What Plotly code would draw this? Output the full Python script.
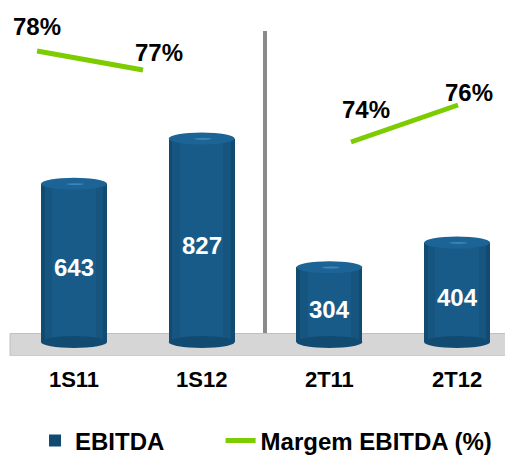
import plotly.graph_objects as go

# ---- data ----
categories = ["1S11", "1S12", "2T11", "2T12"]
ebitda = [643, 827, 304, 404]
margem = [78, 77, 74, 76]
margem_labels = ["78%", "77%", "74%", "76%"]

# ---- styling ----
FONT = "Liberation Sans, Arial, sans-serif"
BAR_W = 0.517
GREEN = "#7ccc00"
PX = 4.064          # data units per pixel on the bar axis
CAP = 6 * PX        # half-height of cylinder ellipses
label_shift = [(0, 25), (16, 18), (15, 32), (11, 12)]
LEG_FONT = dict(family=FONT, size=24, color="black", weight="bold")

fig = go.Figure()

# cylinder body layers (outer dark, inner lighter)
layers = [(BAR_W, "#124b72", True), (0.46, "#16557f", False), (0.34, "#195b88", False)]
for w, col, show in layers:
    fig.add_trace(go.Bar(
        x=categories, y=ebitda, width=w, marker=dict(color=col, line=dict(width=0)),
        name="EBITDA", showlegend=show, legendgroup="e", legend="legend",
        xaxis="x", yaxis="y"))

# margin lines (two separate panels)
fig.add_trace(go.Scatter(
    x=categories[:2], y=margem[:2], mode="lines", line=dict(color=GREEN, width=5),
    name="Margem EBITDA (%)", legendgroup="m", showlegend=True, legend="legend2",
    xaxis="x2", yaxis="y2"))
fig.add_trace(go.Scatter(
    x=categories[2:], y=margem[2:], mode="lines", line=dict(color=GREEN, width=5),
    name="Margem EBITDA (%)", legendgroup="m", showlegend=False, legend="legend2",
    xaxis="x3", yaxis="y3"))

shapes = []
# floor
shapes.append(dict(type="rect", xref="paper", yref="y", x0=0.004, x1=1.0,
                   y0=-14 * PX, y1=8.5 * PX, fillcolor="#d6d6d6",
                   line=dict(color="#c0c0c0", width=1), layer="below"))
# separator
shapes.append(dict(type="line", xref="paper", yref="paper", x0=0.5089, x1=0.5089,
                   y0=0.0661, y1=0.934, line=dict(color="#8a8a8a", width=4), layer="below"))
# cylinder ends
for i, v in enumerate(ebitda):
    shapes.append(dict(type="circle", xref="x", yref="y", x0=i - BAR_W / 2, x1=i + BAR_W / 2,
                       y0=-CAP, y1=CAP, fillcolor="#124b72", line=dict(width=0), layer="above"))
    shapes.append(dict(type="circle", xref="x", yref="y", x0=i - BAR_W / 2, x1=i + BAR_W / 2,
                       y0=v - CAP, y1=v + CAP, fillcolor="#1c6496", line=dict(width=0), layer="above"))
    shapes.append(dict(type="circle", xref="x", yref="y", x0=i - 0.06, x1=i + 0.08,
                       y0=v - 1.2 * PX, y1=v + 0.6 * PX, fillcolor="#3f86b8",
                       line=dict(width=0), layer="above"))

annotations = []
for i, v in enumerate(ebitda):
    annotations.append(dict(x=categories[i], y=v / 2, xref="x", yref="y", text=str(v),
                            showarrow=False, yshift=-5,
                            font=dict(family=FONT, size=24, color="white", weight="bold")))
for i, (m, t) in enumerate(zip(margem, margem_labels)):
    ax = "x2" if i < 2 else "x3"
    ay = "y2" if i < 2 else "y3"
    dx, dy = label_shift[i]
    annotations.append(dict(x=categories[i], y=m, xref=ax, yref=ay, text=t, showarrow=False,
                            xshift=dx, yshift=dy,
                            font=dict(family=FONT, size=24, color="black", weight="bold")))

fig.update_layout(
    width=505, height=448,
    margin=dict(l=0, r=0, t=0, b=100, autoexpand=False),
    paper_bgcolor="white", plot_bgcolor="white",
    barmode="overlay", bargap=0,
    font=dict(family=FONT, color="black"),
    shapes=shapes, annotations=annotations,
    xaxis=dict(type="category", categoryorder="array", categoryarray=categories,
               range=[-0.517, 3.438], showgrid=False, zeroline=False, showline=False,
               ticks="", ticklabelstandoff=8, automargin=False,
               tickfont=dict(family=FONT, size=22, color="black", weight="bold")),
    yaxis=dict(range=[-14 * PX, 334 * PX], visible=False, showgrid=False),
    xaxis2=dict(type="category", overlaying="x", range=[-0.274, 4.491], visible=False),
    yaxis2=dict(overlaying="y", anchor="x2", range=[61.947, 80.263], visible=False),
    xaxis3=dict(type="category", overlaying="x", range=[-3.206, 1.514], visible=False),
    yaxis3=dict(overlaying="y", anchor="x3", range=[62.432, 81.243], visible=False),
    legend=dict(orientation="h", xref="container", yref="container",
                x=0.0535, xanchor="left", y=0.0335, yanchor="middle",
                itemwidth=30, font=LEG_FONT, bgcolor="rgba(0,0,0,0)"),
    legend2=dict(orientation="h", xref="container", yref="container",
                 x=0.421, xanchor="left", y=0.0335, yanchor="middle",
                 itemwidth=30, font=LEG_FONT, bgcolor="rgba(0,0,0,0)"),
    showlegend=True,
)

fig.write_html("out.html")
